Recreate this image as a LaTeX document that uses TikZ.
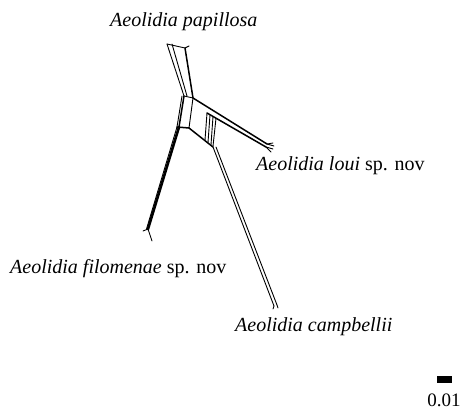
\documentclass[tikz,border=0pt]{standalone}
\usepackage{fontspec}
\setmainfont{Liberation Serif}
\usetikzlibrary{calc}
\begin{document}
\begin{tikzpicture}[x=1pt,y=-1pt,
  taxon/.style={anchor=base west,inner sep=0pt,font=\fontsize{20}{24}\selectfont},
  edge/.style={line width=0.9pt,line cap=round,line join=round},
  thick edge/.style={line width=1.5pt,line cap=round,line join=round},
  heavy edge/.style={line width=2.6pt,line cap=round,line join=round}]
\useasboundingbox (0,0) rectangle (464,412);
% labels
\node[taxon] (pap) at (110,27) {\itshape Aeolidia papillosa};
\node[taxon] (lou) at (256,171) {\textit{Aeolidia loui} sp. nov};
\node[taxon] (fil) at (10,273) {\textit{Aeolidia filomenae} sp. nov};
\node[taxon] (cam) at (235,331) {\itshape Aeolidia campbellii};
% network points
\coordinate (tA) at (167,44);
\coordinate (tB) at (172,44);
\coordinate (tC) at (185,48);
\coordinate (tD) at (189,46);
\coordinate (bTL) at (184,96);
\coordinate (bTLi) at (187,96);
\coordinate (bTR) at (193,98);
\coordinate (bBL) at (179,127);
\coordinate (bBLo) at (177,127);
\coordinate (bBR) at (189,128);
\coordinate (lTip) at (267,144);
\coordinate (lTip2) at (266,147);
\coordinate (cJ) at (213,147);
\coordinate (cJ2) at (216,147);
\coordinate (cTip) at (274,306);
\coordinate (cTip2) at (277,305);
\coordinate (fTip) at (148,229);
% papillosa branch
\draw[edge] (tA) -- (tC) -- (tD);
\draw[edge] (tA) -- (bTL);
\draw[edge] (tB) -- (bTLi);
\draw[thick edge] (tC) -- (bTR);
% central box
\draw[edge] (bTL) -- (bTR);
\draw[thick edge] (bTL) -- (bBL);
\draw[edge] ($(bTL)+(-2,0)$) -- (bBLo);
\draw[edge] (bTR) -- (bBR);
\draw[thick edge] (bBLo) -- (bBR);
% loui branch
\draw[thick edge] (bTR) -- (lTip);
\draw[thick edge] (207,113) -- (lTip2);
\draw[edge] (lTip) -- (273,143);
\draw[edge] (lTip) -- (274,146);
\draw[edge] (lTip2) -- (271,152);
\draw[edge] (lTip2) -- (273,149);
% splits
\draw[thick edge] (bBR) -- (cJ);
\foreach \xt/\xb in {207/205,210/208,213/211,216/213}{
  \draw[edge] (\xt,{112+0.57*(\xt-205)}) -- (\xb,{128+0.76*(\xb-189)});
}
% campbellii branch
\draw[edge] (cJ) -- (cTip);
\draw[edge] (cJ2) -- (cTip2);
\draw[edge] (cTip) -- (273,309);
\draw[edge] (cTip2) -- (278,308);
% filomenae branch
\draw[heavy edge] (bBL) -- (fTip);
\draw[edge] (bBLo) -- ($(fTip)+(-1.5,0)$);
\draw[edge] (fTip) -- (143,231);
\draw[edge] (fTip) -- (152,241);
% scale bar
\node[fill=black,minimum width=15pt,minimum height=7pt,inner sep=0pt] (bar) at (444,379) {};
\node[anchor=base,inner sep=0pt,font=\fontsize{19}{22}\selectfont] (sc) at (444,406) {0.01};
\end{tikzpicture}
\end{document}
